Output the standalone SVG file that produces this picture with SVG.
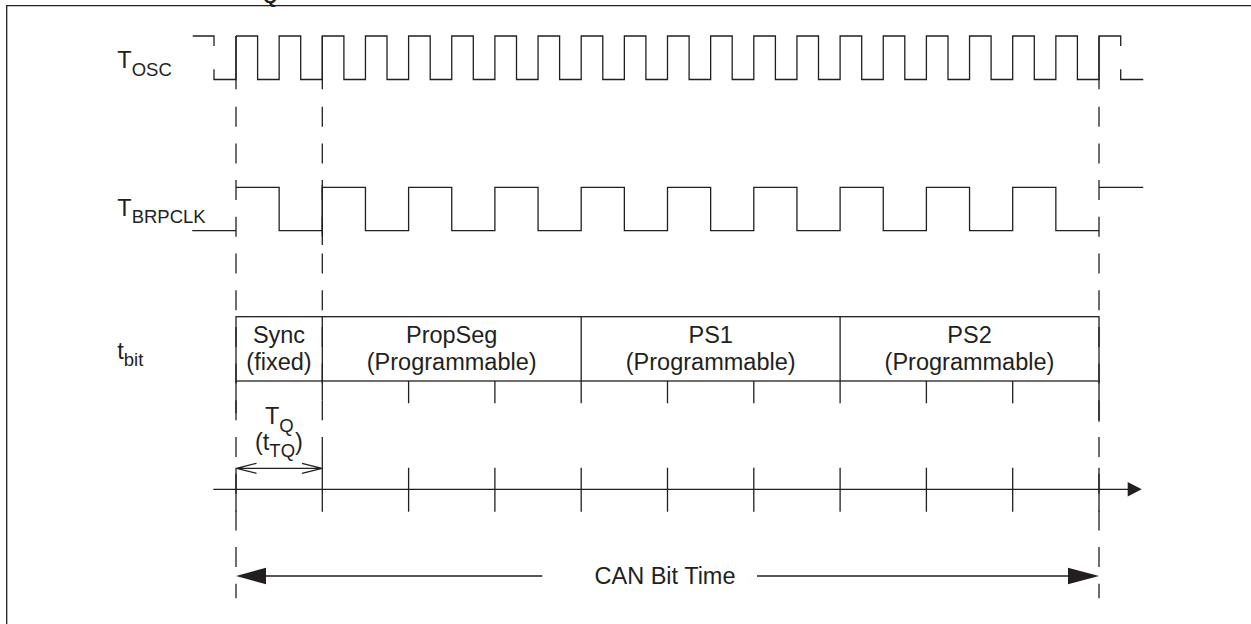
<svg xmlns="http://www.w3.org/2000/svg" width="1251" height="624" viewBox="0 0 1251 624">
<style>
.ln{fill:none;stroke:#231f20;stroke-width:1.3}
.dash{fill:none;stroke:#231f20;stroke-width:1.3;stroke-dasharray:20 16.7}
.hd{fill:#231f20;stroke:none}
text{font-family:"Liberation Sans",Arial,sans-serif;fill:#231f20}
.m{font-size:23.5px}
.s{font-size:18.5px}
.c{text-anchor:middle}
</style>
<path class="ln" d="M6.7 624V5.7H1251"/>
<text x="263" y="2.5" class="s" font-weight="bold">Q</text>

<g id="labels">
<text x="117.3" y="68" class="m">T<tspan class="s" dy="8">OSC</tspan></text>
<text x="117.3" y="216" class="m">T<tspan class="s" dy="7">BRPCLK</tspan></text>
<text x="117.3" y="358.5" class="m">t<tspan class="s" dy="7.5">bit</tspan></text>
</g>

<g id="tosc">
<path class="ln" d="M192.7 36H214V46M214 69.3V79.5H236V36"/>
<path class="ln" d="M236 36H257.6V79.5H279.15V36H300.7V79.5H322.3V36H343.9V79.5H365.45V36H387V79.5H408.6V36H430.2V79.5H451.75V36H473.3V79.5H494.9V36H516.5V79.5H538.05V36H559.6V79.5H581.2V36H602.8V79.5H624.35V36H645.9V79.5H667.5V36H689.1V79.5H710.65V36H732.2V79.5H753.8V36H775.4V79.5H796.95V36H818.5V79.5H840.1V36H861.7V79.5H883.25V36H904.8V79.5H926.4V36H948V79.5H969.55V36H991.1V79.5H1012.7V36H1034.3V79.5H1055.85V36H1077.4V79.5H1099V36H1120.7V46M1120.7 69.3V79.5H1143.3"/>
</g>

<g id="tbrpclk">
<path class="ln" d="M192.3 230.7H236M236 187.3H279.15V230.7H322.3V187.3H365.45V230.7H408.6V187.3H451.75V230.7H494.9V187.3H538.05V230.7H581.2V187.3H624.35V230.7H667.5V187.3H710.65V230.7H753.8V187.3H796.95V230.7H840.1V187.3H883.25V230.7H926.4V187.3H969.55V230.7H1012.7V187.3H1055.85V230.7H1099M1099 187.3H1143.3"/>
<path class="ln" d="M322.3 185V245"/>
</g>

<g id="guides">
<path class="ln" d="M236 36V89.3M322.3 36V89.3M1099 36V89.3"/>
<path class="dash" d="M236 106.7V598.3M322.3 106.7V467M1099 106.7V598.3"/>
</g>

<g id="tbit">
<rect class="ln" x="236" y="316.7" width="863" height="64.3"/>
<path class="ln" d="M322.3 316.7V400M581.2 316.7V403.3M840.1 316.7V403.3M236 381V413.3M1099 381V421.7"/>
<path class="ln" d="M408.6 381V403.3M494.9 381V403.3M667.5 381V403.3M753.8 381V403.3M926.4 381V403.3M1012.7 381V403.3"/>
<text x="279" y="343.3" class="m c">Sync</text>
<text x="279" y="369.5" class="m c">(fixed)</text>
<text x="451.7" y="343.3" class="m c">PropSeg</text>
<text x="451.7" y="369.5" class="m c">(Programmable)</text>
<text x="710.7" y="343.3" class="m c">PS1</text>
<text x="710.7" y="369.5" class="m c">(Programmable)</text>
<text x="969.5" y="343.3" class="m c">PS2</text>
<text x="969.5" y="369.5" class="m c">(Programmable)</text>
</g>

<g id="tq">
<path class="ln" d="M236.5 468.3H322M256.5 463.3L236.5 468.3L256.5 473.3M302 463.3L322 468.3L302 473.3"/>
<text x="265" y="424" class="m">T<tspan class="s" dy="7.5">Q</tspan></text>
<text x="255" y="450" class="m">(t<tspan class="s" dy="7">TQ</tspan><tspan dy="-7">)</tspan></text>
</g>

<g id="axis">
<path class="ln" d="M213.3 489.3H1128"/>
<polygon class="hd" points="1141.7,489.3 1127.7,482 1127.7,496.6"/>
<path class="ln" d="M236 467.7V511.7M322.3 456.7V511.7M408.6 467.7V511.7M494.9 467.7V511.7M581.2 467.7V511.7M667.5 467.7V511.7M753.8 467.7V511.7M840.1 467.7V511.7M926.4 467.7V511.7M1012.7 467.7V511.7M1099 467.7V511.7"/>
</g>

<g id="canbit">
<path class="ln" d="M265 576H542.3M757 576H1069"/>
<polygon class="hd" points="236,576 266,567.7 266,584.3"/>
<polygon class="hd" points="1099,576 1068,567.7 1068,584.3"/>
<text x="665" y="584" class="m c">CAN Bit Time</text>
</g>
</svg>
